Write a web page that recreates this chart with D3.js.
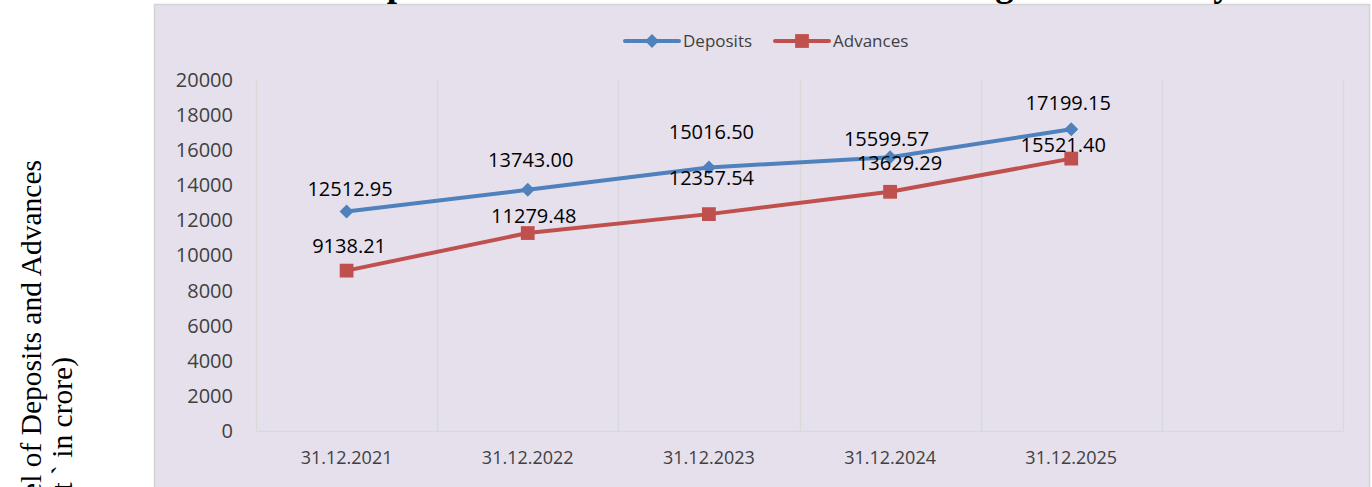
<!DOCTYPE html>
<html>
<head>
<meta charset="utf-8">
<script src="https://cdn.jsdelivr.net/npm/d3@7"></script>
<style>
  body { margin: 0; background: #fff; overflow: hidden; }
  svg { display: block; }
</style>
</head>
<body>
<div id="chart-container"></div>
<script>
// data
const years = ["31.12.2021", "31.12.2022", "31.12.2023", "31.12.2024", "31.12.2025"];
const deposits = [12512.95, 13743.00, 15016.50, 15599.57, 17199.15];
const advances = [9138.21, 11279.48, 12357.54, 13629.29, 15521.40];
const yTicks = [0, 2000, 4000, 6000, 8000, 10000, 12000, 14000, 16000, 18000, 20000];
const seriesNames = ["Deposits", "Advances"];
const titleText = "Deposits and Advances of the Bank during the last five years";
const yTitleLines = ["Level of Deposits and Advances", "(Amount ` in crore)"];

const width = 1372;
const height = 487;
const plot = { left: 256, right: 1343, top: 80, bottom: 431 };

// the chart has one empty category slot at the end
const categories = [...years, ""];

// label nudges (dx, height above point), labels were hand placed in the original
const labelNudge = {
  Deposits: [[3.5, 22], [3, 30], [2.5, 35], [-3.5, 18.5], [-3, 26]],
  Advances: [[2.5, 25], [6, 17.5], [2.5, 36], [9.5, 29], [-8, 14]]
};

const colors = { Deposits: "#4f81bd", Advances: "#c0504d" };
const font = "'Open Sans', sans-serif";
const serif = "'Liberation Serif', 'Times New Roman', serif";

const x = d3.scaleBand()
    .domain(categories)
    .range([plot.left, plot.right]);

const y = d3.scaleLinear()
    .domain([0, 20000])
    .range([plot.bottom, plot.top]);

const svg = d3.select("#chart-container")
  .append("svg")
    .attr("width", width)
    .attr("height", height);

// chart area
svg.append("rect")
    .attr("x", 154.5)
    .attr("y", 4.5)
    .attr("width", 1215)
    .attr("height", 520)
    .attr("fill", "#e5e0ec")
    .attr("stroke", "#d4d4d4")
    .attr("stroke-width", 1.5);

// title, mostly cut off at the top
const title = svg.append("text")
    .attr("y", -4)
    .style("font-family", serif)
    .style("font-weight", "bold")
    .style("font-size", "37px")
    .style("fill", "#000")
    .text(titleText);
const tNode = title.node();
const pStart = tNode.getSubStringLength(0, 2);
const pWidth = tNode.getSubStringLength(2, 1);
title.attr("x", 397 - pStart - pWidth / 2);

// y axis title (two rotated lines)
svg.append("text")
    .attr("transform", "translate(41, 160) rotate(-90)")
    .attr("text-anchor", "end")
    .style("font-family", serif)
    .style("font-size", "29.5px")
    .style("fill", "#000")
    .text(yTitleLines[0]);

svg.append("text")
    .attr("transform", "translate(72, 357) rotate(-90)")
    .attr("text-anchor", "end")
    .style("font-family", serif)
    .style("font-size", "29.5px")
    .style("fill", "#000")
    .text(yTitleLines[1]);

// vertical grid at category boundaries
const bounds = categories.map(c => x(c)).concat([plot.right]);
svg.selectAll(".xGrid")
    .data(bounds)
    .join("line")
    .attr("class", "xGrid")
    .attr("x1", d => Math.round(d) + 0.5)
    .attr("x2", d => Math.round(d) + 0.5)
    .attr("y1", plot.top)
    .attr("y2", plot.bottom)
    .attr("stroke", "#d9d9d9")
    .attr("stroke-width", 1.5);

// x axis
svg.append("g")
    .attr("transform", `translate(0, ${plot.bottom})`)
    .call(d3.axisBottom(x).tickSize(0).tickPadding(20))
    .call(g => g.select(".domain")
        .attr("stroke", "#d9d9d9")
        .attr("stroke-width", 1.5))
    .selectAll(".tick text")
    .style("font-family", font)
    .style("font-size", "18px")
    .style("fill", "#404040");

// y axis
svg.append("g")
    .attr("transform", `translate(${plot.left}, 0)`)
    .call(d3.axisLeft(y).tickValues(yTicks).tickFormat(d3.format("d")).tickSize(0).tickPadding(23))
    .call(g => g.select(".domain").remove())
    .selectAll(".tick text")
    .style("font-family", font)
    .style("font-size", "20px")
    .style("fill", "#404040");

const diamond = d3.symbol().type(d3.symbolSquare).size(98);
const square = d3.symbol().type(d3.symbolSquare).size(190);

const series = [
  { name: "Deposits", values: deposits },
  { name: "Advances", values: advances }
];

const line = d3.line()
    .x((d, i) => x(years[i]) + x.bandwidth() / 2)
    .y(d => y(d));

series.forEach(s => {
  svg.append("path")
      .datum(s.values)
      .attr("fill", "none")
      .attr("stroke", colors[s.name])
      .attr("stroke-width", 4)
      .attr("stroke-linejoin", "round")
      .attr("d", line);

  svg.selectAll(".pt-" + s.name)
      .data(s.values)
      .join("path")
      .attr("class", "pt-" + s.name)
      .attr("transform", (d, i) => {
        const px = x(years[i]) + x.bandwidth() / 2;
        return s.name === "Deposits"
          ? `translate(${px}, ${y(d)}) rotate(45)`
          : `translate(${px}, ${y(d)})`;
      })
      .attr("d", s.name === "Deposits" ? diamond : square)
      .attr("fill", colors[s.name]);

  svg.selectAll(".lbl-" + s.name)
      .data(s.values)
      .join("text")
      .attr("class", "lbl-" + s.name)
      .attr("x", (d, i) => x(years[i]) + x.bandwidth() / 2 + labelNudge[s.name][i][0])
      .attr("y", (d, i) => y(d) - labelNudge[s.name][i][1] + 7)
      .attr("text-anchor", "middle")
      .style("font-family", font)
      .style("font-size", "20px")
      .style("fill", "#000")
      .text(d => d.toFixed(2));
});

// legend
const legendItems = [
  { name: seriesNames[0], x0: 625 },
  { name: seriesNames[1], x0: 775 }
];
const legendY = 41;

legendItems.forEach(item => {
  const g = svg.append("g");
  g.append("line")
      .attr("x1", item.x0)
      .attr("x2", item.x0 + 54)
      .attr("y1", legendY)
      .attr("y2", legendY)
      .attr("stroke", colors[item.name])
      .attr("stroke-width", 4)
      .attr("stroke-linecap", "round");
  g.append("path")
      .attr("transform", item.name === "Deposits"
        ? `translate(${item.x0 + 27}, ${legendY}) rotate(45)`
        : `translate(${item.x0 + 27}, ${legendY})`)
      .attr("d", item.name === "Deposits" ? diamond : square)
      .attr("fill", colors[item.name]);
  g.append("text")
      .attr("x", item.x0 + 58)
      .attr("y", legendY)
      .attr("dy", "0.35em")
      .style("font-family", font)
      .style("font-size", "17px")
      .style("fill", "#404040")
      .text(item.name);
});
</script>
</body>
</html>
